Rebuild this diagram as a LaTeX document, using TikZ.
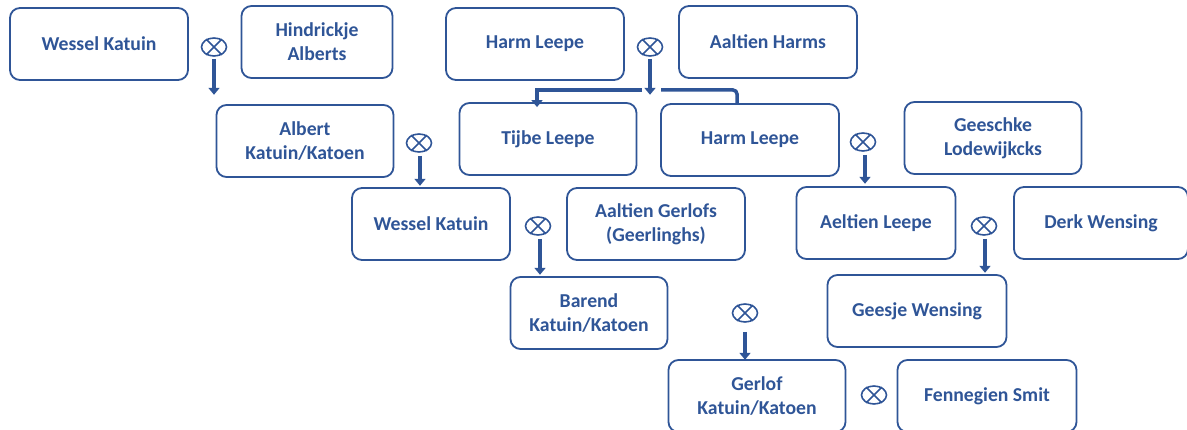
\documentclass[tikz,border=0pt]{standalone}
\usepackage{fontspec}
\setmainfont{Carlito}
\usetikzlibrary{arrows.meta,shapes.geometric}
\definecolor{fblue}{RGB}{47,85,151}
\tikzset{
  box/.style={draw=fblue, line width=1.8pt, rounded corners=10pt, text=fblue,
    font=\fontsize{19.7}{24}\selectfont\bfseries, align=center,
    minimum width=178pt, minimum height=72pt, inner sep=0pt},
  marr/.style={ellipse, draw=fblue, line width=1.6pt, minimum width=25pt, minimum height=18pt, inner sep=0pt},
  arr/.style={draw=fblue, line width=3.5pt, -{Triangle[width=11pt,length=7pt]}},
  conn/.style={draw=fblue, line width=3.5pt}
}
\newcommand{\marriage}[2]{%
  \node[marr] (#1) at (#2) {};
  \draw[fblue, line width=1.6pt] (#1.45) -- (#1.225) (#1.135) -- (#1.315);
}
\begin{document}
\begin{tikzpicture}[x=1pt,y=-1pt]
\useasboundingbox (0,0) rectangle (1187,430);
% boxes
\node[box] (wk1) at (99,44) {Wessel Katuin};
\node[box, minimum width=151pt] (ha) at (317,42) {Hindrickje\\Alberts};
\node[box] (hl1) at (535,44) {Harm Leepe};
\node[box] (ah) at (768,42) {Aaltien Harms};
\node[box, minimum width=177pt] (ak) at (305,141) {Albert\\Katuin/Katoen};
\node[box, minimum width=177pt] (tl) at (548,139) {Tijbe Leepe};
\node[box] (hl2) at (750,140) {Harm Leepe};
\node[box, minimum width=177pt] (gl) at (993,138) {Geeschke\\Lodewijkcks};
\node[box, minimum width=158pt] (wk2) at (431,224) {Wessel Katuin};
\node[box] (ag) at (656,224) {Aaltien Gerlofs\\(Geerlinghs)};
\node[box, minimum width=159pt] (al) at (876,223) {Aeltien Leepe};
\node[box, minimum width=174pt] (dw) at (1101,223) {Derk Wensing};
\node[box, minimum width=157pt] (bk) at (589,313) {Barend\\Katuin/Katoen};
\node[box, minimum width=179pt] (gw) at (917,311) {Geesje Wensing};
\node[box, minimum width=177pt] (gk) at (757,396) {Gerlof\\Katuin/Katoen};
\node[box, minimum width=179pt] (fs) at (987,396) {Fennegien Smit};
% marriage symbols
\marriage{o1}{214,47}
\marriage{o2}{419,143}
\marriage{o3}{538,226}
\marriage{o4}{650,47}
\marriage{o5}{863,142}
\marriage{o6}{984,226}
\marriage{o7}{745,313}
\marriage{o8}{874,395}
% descent arrows
\draw[arr] ([yshift=-2pt]o1.south) -- ++(0,36);
\draw[arr] ([xshift=1pt,yshift=-3pt]o2.south) -- ++(0,30);
\draw[arr] ([xshift=2pt,yshift=-3pt]o3.south) -- ++(0,36);
\draw[arr] ([yshift=-2pt]o4.south) -- ++(0,36);
\draw[arr] ([xshift=2pt,yshift=-3pt]o5.south) -- ++(0,29);
\draw[arr] ([xshift=1pt,yshift=-3pt]o6.south) -- ++(0,34);
\draw[arr] ([yshift=-9pt]o7.south) -- ++(0,28);
% branch to children of Harm Leepe and Aaltien Harms
\coordinate (jl) at (642,90);
\coordinate (jr) at (661,90);
\draw[arr] (jl) -| ([xshift=-11pt,yshift=-5pt]tl.north);
\draw[conn, rounded corners=4pt] (jr) -| ([xshift=-13pt]hl2.north);
\end{tikzpicture}
\end{document}
